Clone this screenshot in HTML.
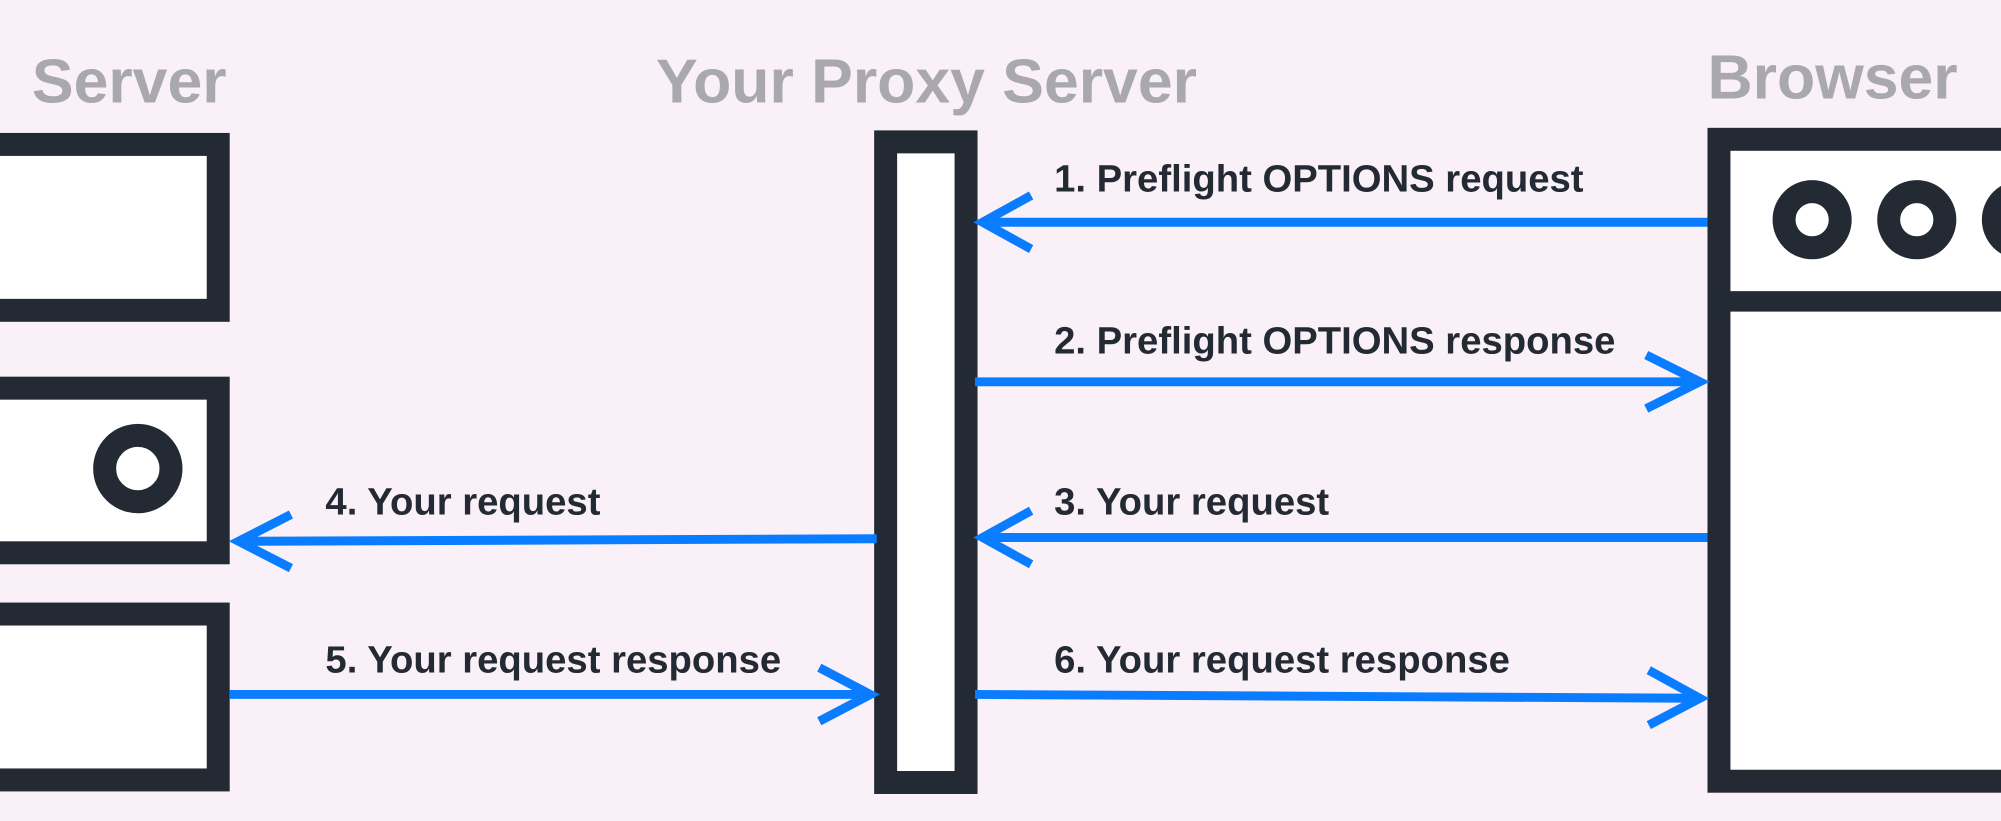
<!DOCTYPE html>
<html><head><meta charset="utf-8"><style>
html,body{margin:0;padding:0;background:#f9f0f8;}
svg{display:block}
.h{font-family:"Liberation Sans",sans-serif;font-weight:bold;font-size:49px;fill:#a8a8ae;}
.l{font-family:"Liberation Sans",sans-serif;font-weight:bold;font-size:30px;fill:#232a33;letter-spacing:0px;}
.a{stroke:#0a7cff;stroke-width:7;fill:none;}
.b{stroke:#232a33;stroke-width:18;fill:#fff;}
</style></head><body>
<svg width="2001" height="821" viewBox="0 0 1568 643" xmlns="http://www.w3.org/2000/svg">
<rect width="1568" height="643" fill="#f9f0f8"/>
<text class="h" x="25" y="80">Server</text>
<text class="h" x="726" y="80" text-anchor="middle">Your Proxy Server</text>
<text class="h" x="1338" y="77">Browser</text>
<rect class="b" x="-20" y="113" width="191" height="130"/>
<rect class="b" x="-20" y="304" width="191" height="129"/>
<circle class="b" cx="108" cy="367" r="26"/>
<rect class="b" x="-20" y="481" width="191" height="130"/>
<rect class="b" x="694" y="111" width="63" height="502" stroke-width="12"/>
<rect class="b" x="1347" y="109" width="260" height="503"/>
<line x1="1347" y1="236" x2="1600" y2="236" stroke="#232a33" stroke-width="16"/>
<circle class="b" cx="1420" cy="172" r="22"/>
<circle class="b" cx="1502" cy="172" r="22"/>
<circle class="b" cx="1584" cy="172" r="22"/>
<text class="l" x="826" y="150">1. Preflight OPTIONS request</text>
<line class="a" x1="1338" y1="174" x2="770" y2="174"/>
<polyline class="a" points="808,153 770,174 808,195"/>
<text class="l" x="826" y="277">2. Preflight OPTIONS response</text>
<line class="a" x1="764" y1="299" x2="1332" y2="299"/>
<polyline class="a" points="1290,278 1332,299 1290,320"/>
<text class="l" x="826" y="403">3. Your request</text>
<line class="a" x1="1338" y1="421" x2="770" y2="421"/>
<polyline class="a" points="808,400 770,421 808,442"/>
<text class="l" x="255" y="403">4. Your request</text>
<line class="a" x1="687" y1="422" x2="187" y2="424"/>
<polyline class="a" points="228,403 187,424 228,445"/>
<text class="l" x="255" y="527">5. Your request response</text>
<line class="a" x1="180" y1="544" x2="682" y2="544"/>
<polyline class="a" points="642,523 682,544 642,565"/>
<text class="l" x="826" y="527">6. Your request response</text>
<line class="a" x1="764" y1="544" x2="1332" y2="547"/>
<polyline class="a" points="1292,525 1332,547 1292,568"/>
</svg>
</body></html>
